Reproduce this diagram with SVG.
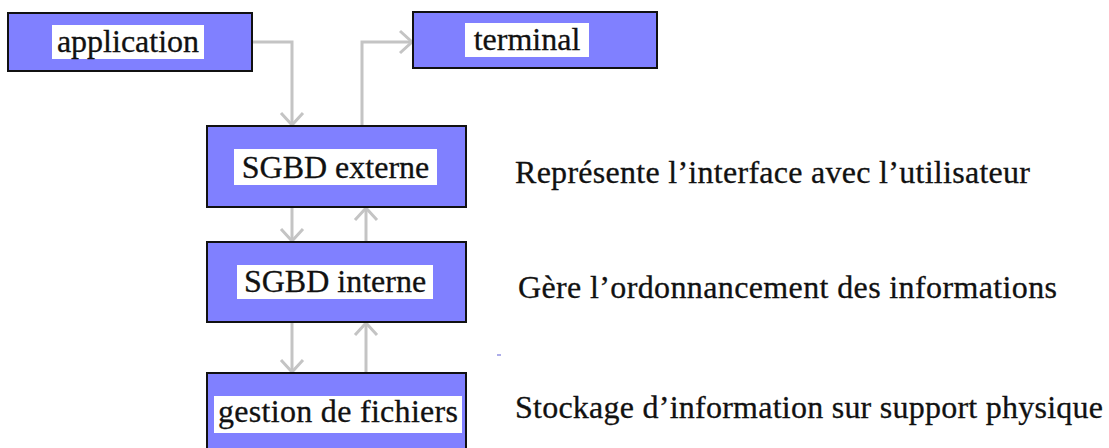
<svg xmlns="http://www.w3.org/2000/svg" width="1109" height="448" viewBox="0 0 1109 448">
  <style>
    .box { fill: #8080ff; stroke: #111; stroke-width: 2; }
    .lbl-bg { fill: #ffffff; }
    text { font-family: 'Liberation Serif', 'Times New Roman', serif; font-size: 32px; fill: #111; stroke: #111; stroke-width: 0.3; }
    .wire { fill: none; stroke: #c4c4c4; stroke-width: 3; marker-end: url(#arrow); }
  </style>
  <defs>
    <marker id="arrow" markerUnits="userSpaceOnUse" markerWidth="30" markerHeight="30" viewBox="-16 -15 20 30" refX="0" refY="0" orient="auto">
      <path d="M-12,-11 L0,0 L-12,11" fill="none" stroke="#c4c4c4" stroke-width="3"/>
    </marker>
  </defs>

  <rect width="1109" height="448" fill="#ffffff"/>

  <!-- connectors -->
  <g id="connectors">
    <path class="wire" d="M252,42 H292 V125"/>
    <path class="wire" d="M362,126 V42 H412"/>
    <path class="wire" d="M292,207 V241"/>
    <path class="wire" d="M366,242 V208"/>
    <path class="wire" d="M292,322 V372"/>
    <path class="wire" d="M366,373 V323"/>
  </g>

  <g id="application">
    <rect class="box" x="8" y="13" width="244" height="58"/>
    <rect class="lbl-bg" x="52" y="25" width="152" height="34"/>
    <text x="128" y="52" text-anchor="middle">application</text>
  </g>

  <g id="terminal">
    <rect class="box" x="413" y="12" width="244" height="56"/>
    <rect class="lbl-bg" x="465" y="23" width="124" height="34"/>
    <text x="527" y="50" text-anchor="middle">terminal</text>
  </g>

  <g id="sgbd-externe">
    <rect class="box" x="207" y="126" width="259" height="81"/>
    <rect class="lbl-bg" x="234" y="149" width="203" height="36"/>
    <text x="335.5" y="178" text-anchor="middle">SGBD externe</text>
  </g>

  <g id="sgbd-interne">
    <rect class="box" x="207" y="242" width="259" height="80"/>
    <rect class="lbl-bg" x="237" y="265" width="196" height="34"/>
    <text x="335" y="292" text-anchor="middle">SGBD interne</text>
  </g>

  <g id="gestion-fichiers">
    <rect class="box" x="207" y="373" width="259" height="82"/>
    <rect class="lbl-bg" x="214" y="396" width="248" height="37"/>
    <text x="338" y="422" text-anchor="middle" textLength="240" lengthAdjust="spacing">gestion de fichiers</text>
  </g>

  <g id="notes">
    <text x="515" y="183" textLength="515" lengthAdjust="spacing">Représente l’interface avec l’utilisateur</text>
    <text x="518" y="298" textLength="539" lengthAdjust="spacing">Gère l’ordonnancement des informations</text>
    <text x="515" y="418" textLength="588" lengthAdjust="spacing">Stockage d’information sur support physique</text>
  </g>

  <rect x="497" y="354" width="4" height="2" fill="#8a8ae0" opacity="0.7"/>
</svg>
